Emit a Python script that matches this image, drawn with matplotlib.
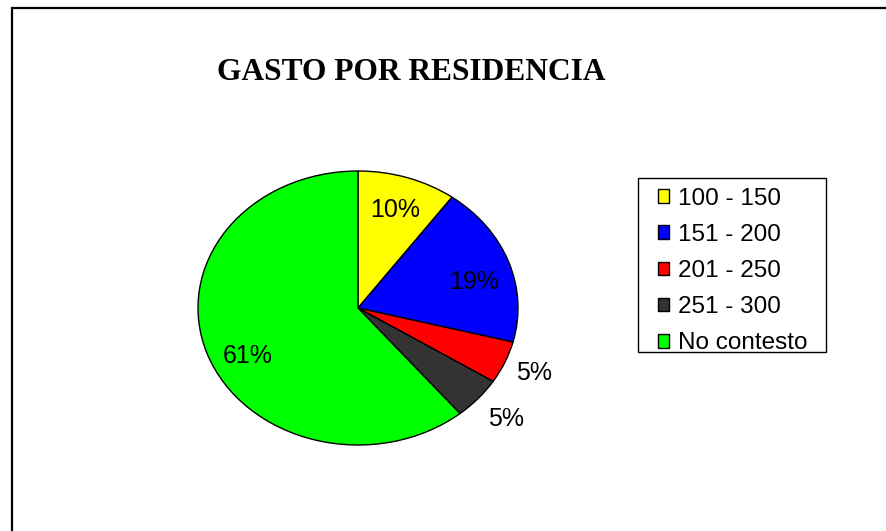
import matplotlib
matplotlib.use("Agg")
import matplotlib.pyplot as plt
from matplotlib.patches import Rectangle, Patch
import numpy as np

title = "GASTO POR RESIDENCIA"
categories = ["100 - 150", "151 - 200", "201 - 250", "251 - 300", "No contesto"]
values = [10, 19, 5, 5, 61]
colors = ["#FFFF00", "#0000FF", "#FF0000", "#333333", "#00FF00"]
label_dist = [0.75, 0.75, 1.2, 1.23, 0.77]
label_shift = [0, -5, 0, 0, 7]  # degrees

W, H = 886, 531
fig = plt.figure(figsize=(W / 100, H / 100), dpi=100)
fig.patch.set_facecolor("white")

# pie axes (elliptical pie: auto aspect)
cx, cy, rx, ry = 358, 308, 160, 137
ax = fig.add_axes([(cx - rx) / W, (H - cy - ry) / H, 2 * rx / W, 2 * ry / H])
wedges, texts, autotexts = ax.pie(
    values, colors=colors, startangle=90, counterclock=False,
    autopct=lambda p: f"{p:.0f}%", pctdistance=0.75,
    wedgeprops=dict(edgecolor="black", linewidth=1.0),
    textprops=dict(fontsize=18, family="Liberation Sans", color="black"),
    radius=1.0)
ax.set_aspect("auto")
ax.set_xlim(-1, 1)
ax.set_ylim(-1, 1)
ax.axis("off")

for w, t, d, s in zip(wedges, autotexts, label_dist, label_shift):
    ang = np.deg2rad((w.theta1 + w.theta2) / 2 + s)
    t.set_position((d * np.cos(ang), d * np.sin(ang)))
    t.set_ha("center")
    t.set_va("center")

# title
fig.text(411 / W, 1 - 72 / H, title, ha="center", va="center",
         fontsize=22.7, fontweight="bold", family="Liberation Serif")

# legend frame
fig.add_artist(Rectangle((638 / W, 1 - 352 / H), (826 - 638) / W, (352 - 178) / H,
                         transform=fig.transFigure, fill=False,
                         edgecolor="black", linewidth=1.0, zorder=5))

# legend entries
handles = [Patch(facecolor=c, edgecolor="black", linewidth=1.0) for c in colors]
leg = fig.legend(handles, categories, loc="upper left",
                 bbox_to_anchor=(649 / W, 1 - 179 / H),
                 prop=dict(family="Liberation Sans", size=17.5),
                 frameon=False,
                 handlelength=0.48, handleheight=0.48, handletextpad=0.38,
                 labelspacing=0.585, borderpad=0.35, borderaxespad=0)

# outer border
fig.add_artist(Rectangle((12 / W, -0.1), 1.5, 1 - 8 / H + 0.1,
                         transform=fig.transFigure, fill=False,
                         edgecolor="black", linewidth=1.6))

fig.savefig("out.png", dpi=100)
